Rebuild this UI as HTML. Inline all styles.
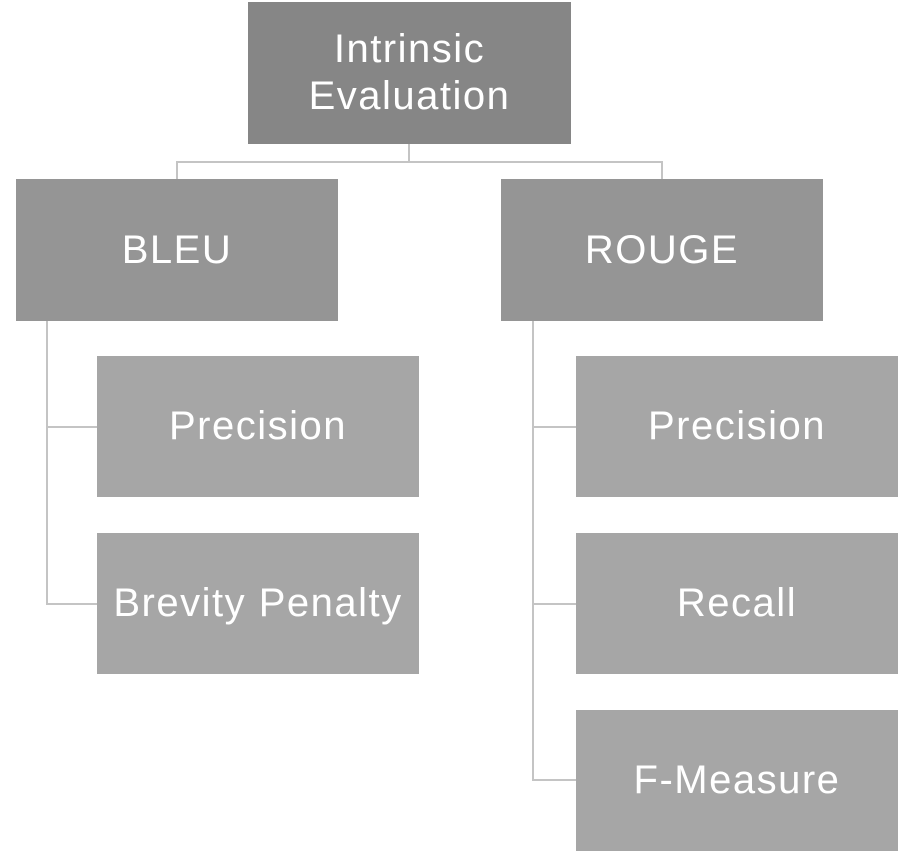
<!DOCTYPE html>
<html><head><style>
body{margin:0;width:901px;height:853px;background:#fff;position:relative;overflow:hidden;font-family:"Liberation Sans",sans-serif}
.b{position:absolute;display:flex;align-items:center;justify-content:center;text-align:center;color:#fff;font-size:40px;line-height:47px;letter-spacing:1.5px}
.l{position:absolute;background:#c4c4c4}
</style></head><body>
<div class="l" style="left:408px;top:144px;width:2px;height:18px"></div>
<div class="l" style="left:176px;top:161px;width:487px;height:2px"></div>
<div class="l" style="left:176px;top:161px;width:2px;height:18px"></div>
<div class="l" style="left:661px;top:161px;width:2px;height:18px"></div>
<div class="l" style="left:46px;top:321px;width:2px;height:283px"></div>
<div class="l" style="left:46px;top:426px;width:51px;height:2px"></div>
<div class="l" style="left:46px;top:603px;width:51px;height:2px"></div>
<div class="l" style="left:532px;top:321px;width:2px;height:459px"></div>
<div class="l" style="left:532px;top:426px;width:44px;height:2px"></div>
<div class="l" style="left:532px;top:603px;width:44px;height:2px"></div>
<div class="l" style="left:532px;top:779px;width:44px;height:2px"></div>
<div class="b" style="left:248px;top:2px;width:323px;height:142px;background:#868686">Intrinsic<br>Evaluation</div>
<div class="b" style="left:16px;top:179px;width:322px;height:142px;background:#959595">BLEU</div>
<div class="b" style="left:501px;top:179px;width:322px;height:142px;background:#959595">ROUGE</div>
<div class="b" style="left:97px;top:356px;width:322px;height:141px;background:#a6a6a6">Precision</div>
<div class="b" style="left:97px;top:533px;width:322px;height:141px;background:#a6a6a6">Brevity Penalty</div>
<div class="b" style="left:576px;top:356px;width:322px;height:141px;background:#a6a6a6">Precision</div>
<div class="b" style="left:576px;top:533px;width:322px;height:141px;background:#a6a6a6">Recall</div>
<div class="b" style="left:576px;top:710px;width:322px;height:141px;background:#a6a6a6">F-Measure</div>
</body></html>
